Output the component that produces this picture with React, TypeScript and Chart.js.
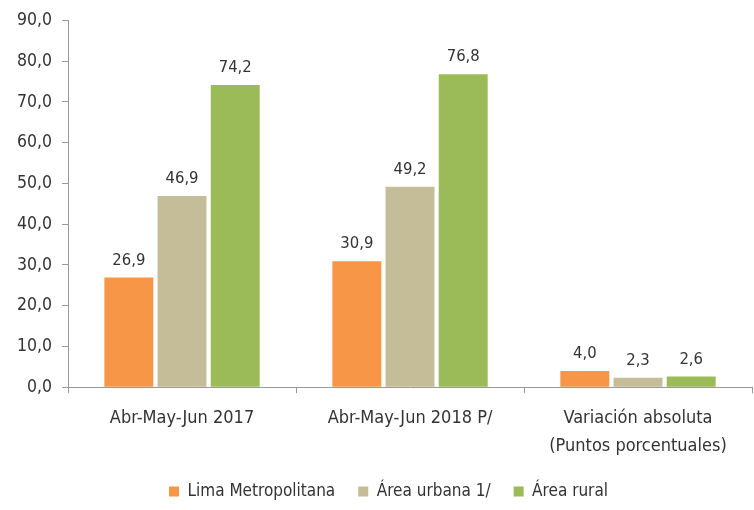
import React, { useEffect, useRef } from "react";
import { Chart, registerables } from "chart.js";

Chart.register(...registerables);

const categories: (string | string[])[] = [
  "Abr-May-Jun 2017",
  "Abr-May-Jun 2018 P/",
  ["Variación absoluta", "(Puntos porcentuales)"],
];
const seriesNames = ["Lima Metropolitana", "Área urbana 1/", "Área rural"];
const limaValues = [26.9, 30.9, 4.0];
const urbanaValues = [46.9, 49.2, 2.3];
const ruralValues = [74.2, 76.8, 2.6];
const seriesColors = ["#F79646", "#C4BD97", "#9BBB59"];
const yTicks = [0, 10, 20, 30, 40, 50, 60, 70, 80, 90];

const FONT = "'DejaVu Sans Condensed', 'Liberation Sans Narrow', sans-serif";
const TEXT = "#333333";

const fmt = (v: number) => v.toFixed(1).replace(".", ",");

const valueLabels = {
  id: "valueLabels",
  afterDatasetsDraw(chart: any) {
    const ctx = chart.ctx;
    ctx.save();
    ctx.font = `16.5px ${FONT}`;
    ctx.fillStyle = TEXT;
    ctx.textAlign = "center";
    ctx.textBaseline = "alphabetic";
    chart.data.datasets.forEach((ds: any, i: number) => {
      const meta = chart.getDatasetMeta(i);
      meta.data.forEach((el: any, j: number) => {
        ctx.fillText(fmt(ds.data[j]), el.x, el.y - 13);
      });
    });
    ctx.restore();
  },
};

const legendShift = {
  id: "legendShift",
  afterLayout(chart: any) {
    if (chart.legend) {
      chart.legend.left += 9;
      chart.legend.right += 9;
    }
  },
};

export default function App() {
  const ref = useRef<HTMLCanvasElement>(null);
  useEffect(() => {
    document.body.style.margin = "0";
    const chart = new Chart(ref.current!, {
      type: "bar",
      data: {
        labels: categories,
        datasets: [
          { label: seriesNames[0], data: limaValues, backgroundColor: seriesColors[0] },
          { label: seriesNames[1], data: urbanaValues, backgroundColor: seriesColors[1] },
          { label: seriesNames[2], data: ruralValues, backgroundColor: seriesColors[2] },
        ],
      },
      options: {
        animation: false,
        responsive: false,
        maintainAspectRatio: false,
        layout: { padding: { top: 10, right: 2, left: 7, bottom: 0 } },
        datasets: { bar: { categoryPercentage: 0.7, barPercentage: 0.92 } } as any,
        plugins: {
          tooltip: { enabled: false },
          legend: {
            position: "bottom",
            labels: {
              boxWidth: 10,
              boxHeight: 10,
              padding: 23,
              color: TEXT,
              font: { family: FONT, size: 17 },
            },
          },
        },
        scales: {
          x: {
            afterFit: (axis: any) => {
              axis.height -= 11;
            },
            grid: {
              drawOnChartArea: false,
              drawTicks: true,
              tickLength: 6,
              color: "#999999",
            },
            border: { color: "#999999" },
            ticks: {
              color: TEXT,
              font: { family: FONT, size: 18, lineHeight: 1.55 },
              padding: 11,
              maxRotation: 0,
            },
          },
          y: {
            min: 0,
            max: 90,
            afterBuildTicks: (axis: any) => {
              axis.ticks = yTicks.map((v) => ({ value: v }));
            },
            grid: {
              drawOnChartArea: false,
              drawTicks: true,
              tickLength: 6,
              color: "#999999",
            },
            border: { color: "#999999" },
            ticks: {
              color: TEXT,
              font: { family: FONT, size: 17.5 },
              padding: 10,
              callback: (v: any) => fmt(Number(v)),
            },
          },
        },
      },
      plugins: [valueLabels, legendShift],
    });
    return () => chart.destroy();
  }, []);
  return <canvas ref={ref} width={754} height={510} style={{ display: "block" }} />;
}
